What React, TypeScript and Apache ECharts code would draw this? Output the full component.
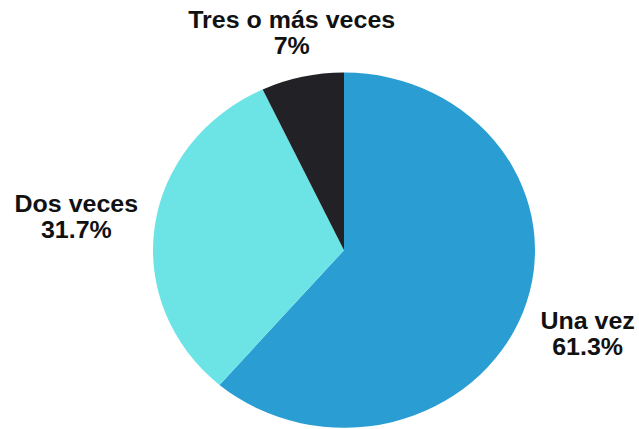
import React, { useEffect, useRef } from "react";
import * as echarts from "echarts";

const categories = ["Una vez", "Dos veces", "Tres o más veces"];
const values = [61.3, 31.7, 7];
const labelsPct = ["61.3%", "31.7%", "7%"];
const colors = ["#2a9ed2", "#6ce4e6", "#222126"];

const SCALE_Y = 0.93;
const W = 639;
const H = Math.round(429 / SCALE_Y);
const CX = 344;
const CY = 269;
const R = 191;
const GAP = 15;

function placeLabel(dataIndex: number, w: number, h: number) {
  const total = values.reduce((a, b) => a + b, 0);
  let cum = 0;
  for (let i = 0; i < dataIndex; i++) cum += values[i];
  const theta = (2 * Math.PI * (cum + values[dataIndex] / 2)) / total;
  const dx = Math.sin(theta);
  const dy = -Math.cos(theta);
  const hw = w / 2;
  const hh = h / 2;
  const target = R + GAP;
  let lo = 0;
  let hi = 1000;
  for (let k = 0; k < 60; k++) {
    const t = (lo + hi) / 2;
    const ex = Math.max(Math.abs(t * dx) - hw, 0);
    const ey = Math.max(Math.abs(t * dy) - hh, 0);
    const d = Math.sqrt(ex * ex + ey * ey);
    if (d < target) lo = t;
    else hi = t;
  }
  const t = (lo + hi) / 2;
  return { x: CX + t * dx, y: CY + t * dy };
}

export default function App() {
  const ref = useRef<HTMLDivElement>(null);
  useEffect(() => {
    if (!ref.current) return;
    const chart = echarts.init(ref.current, null, { renderer: "svg" });
    chart.setOption({
      animation: false,
      backgroundColor: "#ffffff",
      series: [
        {
          type: "pie",
          center: [CX, CY],
          radius: R,
          startAngle: 90,
          clockwise: true,
          avoidLabelOverlap: false,
          labelLine: { show: false },
          label: {
            show: true,
            position: "outside",
            formatter: (p: any) => `${p.name}\n${labelsPct[p.dataIndex]}`,
            fontFamily: "Liberation Sans, Arial, sans-serif",
            fontWeight: "bold",
            fontSize: 25,
            lineHeight: 28,
            color: "#111111",
            align: "center",
          },
          labelLayout: (params: any) => {
            const rect = params.labelRect;
            const pos = placeLabel(params.dataIndex, rect.width, rect.height);
            return { x: pos.x, y: pos.y, align: "center", verticalAlign: "middle" };
          },
          itemStyle: { borderWidth: 0 },
          emphasis: { disabled: true },
          data: categories.map((name, i) => ({
            name,
            value: values[i],
            itemStyle: { color: colors[i] },
          })),
        },
      ],
    });
    return () => chart.dispose();
  }, []);
  return (
    <div
      ref={ref}
      style={{
        position: "fixed",
        left: 0,
        top: 0,
        width: W,
        height: H,
        transform: `scaleY(${SCALE_Y})`,
        transformOrigin: "0 0",
        background: "#ffffff",
      }}
    />
  );
}
